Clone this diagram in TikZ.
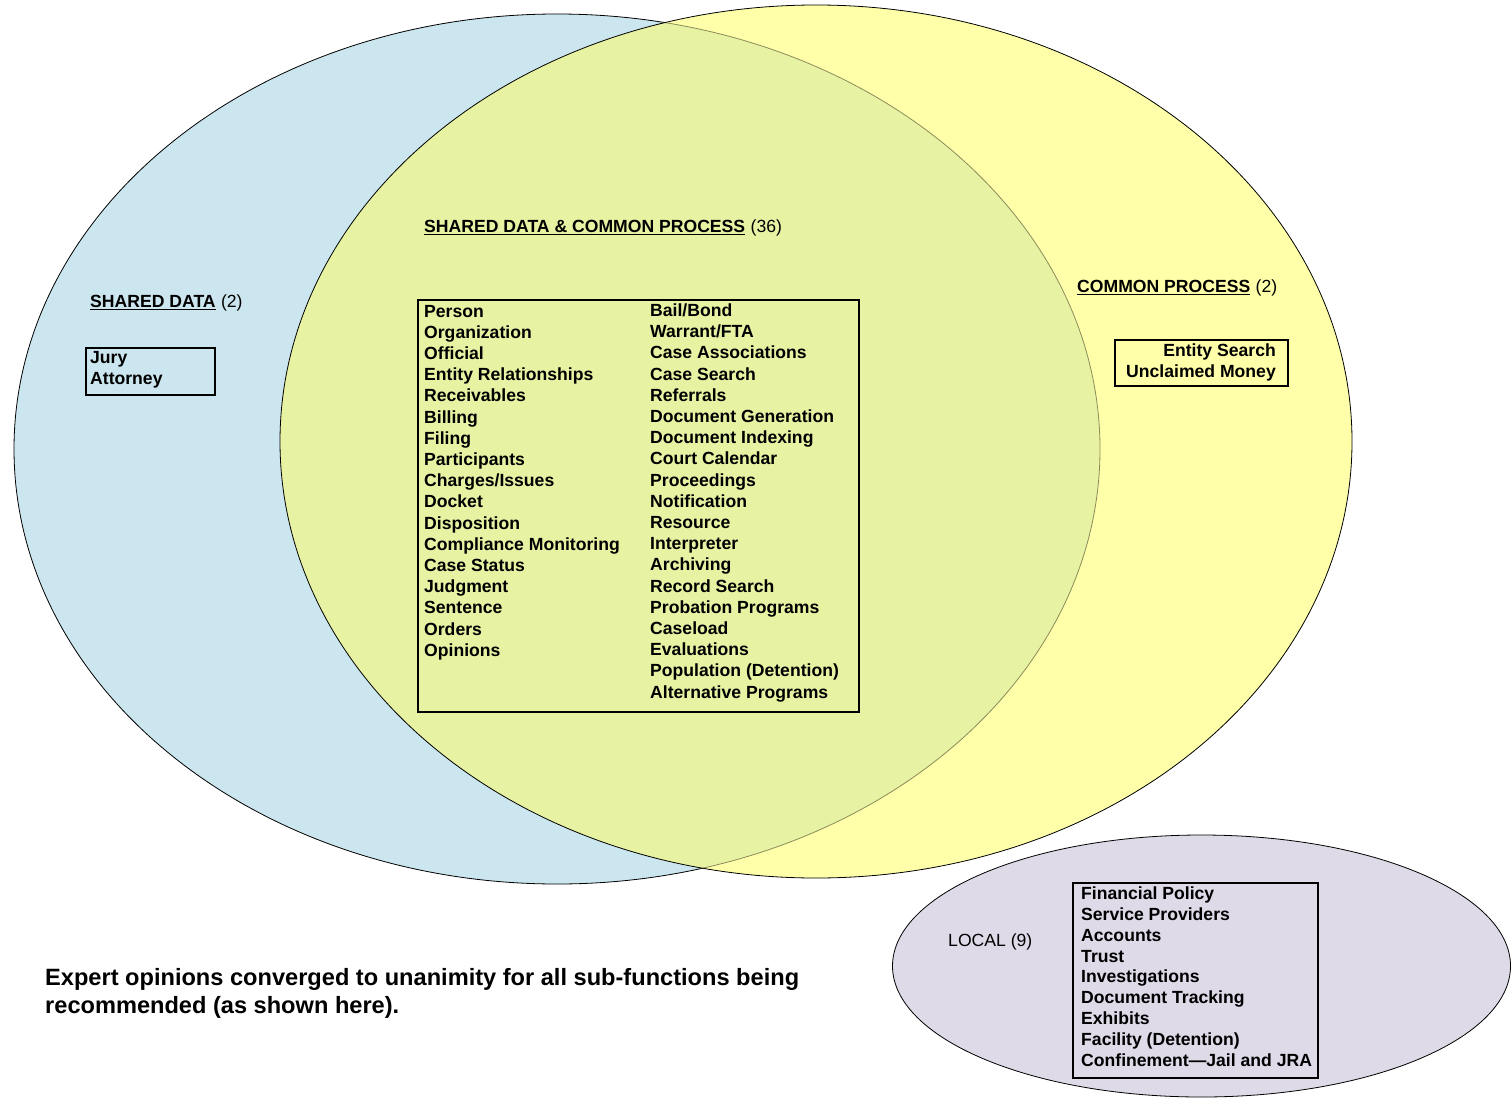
\documentclass[tikz,border=0pt]{standalone}
\usepackage{fontspec}
\setmainfont{Liberation Sans}
\definecolor{sdblue}{HTML}{CBE6EE}
\definecolor{cpyellow}{HTML}{FFFFAA}
\definecolor{bothgreen}{HTML}{E7F2A3}
\definecolor{localpurple}{HTML}{DEDAE8}
\definecolor{innerrim}{HTML}{8C8C5A}
\tikzset{
  item/.style={anchor=base west, inner sep=0pt, font=\fontsize{17.6}{21.2}\selectfont\bfseries},
  itemr/.style={anchor=base east, inner sep=0pt, font=\fontsize{17.6}{21.2}\selectfont\bfseries},
  plain/.style={anchor=base west, inner sep=0pt, font=\fontsize{17.6}{21.2}\selectfont},
  listbox/.style={draw=black, line width=2pt, anchor=north west, inner sep=0pt},
  rim/.style={draw=black, line width=0.8pt},
  uline/.style={line width=1.4pt}
}
\begin{document}
\begin{tikzpicture}[x=1pt,y=-1pt]
\useasboundingbox (0,0) rectangle (1511,1097);

% the two large sets
\fill[sdblue] (557,449) ellipse [x radius=543, y radius=435];
\draw[rim] (557,449) ellipse [x radius=543, y radius=435];
\fill[cpyellow] (816,441.5) ellipse [x radius=536, y radius=436.5];
\begin{scope}
  \clip (816,441.5) ellipse [x radius=536, y radius=436.5];
  \fill[bothgreen] (557,449) ellipse [x radius=543, y radius=435];
  \draw[innerrim, line width=0.8pt] (557,449) ellipse [x radius=543, y radius=435];
\end{scope}
\draw[rim] (816,441.5) ellipse [x radius=536, y radius=436.5];

% local set
\fill[localpurple] (1201.5,966) ellipse [x radius=309, y radius=131];
\draw[rim] (1201.5,966) ellipse [x radius=309, y radius=131];

% shared data
\node[item] (sdh) at (90,307) {SHARED DATA};
\node[plain] (sdn) at ([xshift=5pt]sdh.base east) {(2)};
\draw[uline] ([yshift=-2.4pt]sdh.base west) -- ([yshift=-2.4pt]sdh.base east);
\node[listbox, minimum width=129pt, minimum height=47pt] (sdbox) at (85,346.5) {};
\node[item] (jury) at (90,363) {Jury};
\node[item] (atty) at (90,384) {Attorney};

% shared data & common process
\node[item] (bothh) at (424,232) {SHARED DATA \& COMMON PROCESS};
\node[plain] (bothn) at ([xshift=5pt]bothh.base east) {(36)};
\draw[uline] ([yshift=-2.4pt]bothh.base west) -- ([yshift=-2.4pt]bothh.base east);
\node[listbox, minimum width=441pt, minimum height=412pt] (bothbox) at (416.5,298.5) {};
\foreach \t [count=\i] in {Person, Organization, Official, Entity Relationships,
  Receivables, Billing, Filing, Participants, Charges/Issues, Docket, Disposition,
  Compliance Monitoring, Case Status, Judgment, Sentence, Orders, Opinions}
  \node[item] (l\i) at (424,{317+21.2*(\i-1)}) {\t};
\foreach \t [count=\i] in {Bail/Bond, Warrant/FTA, Case Associations, Case Search,
  Referrals, Document Generation, Document Indexing, Court Calendar, Proceedings,
  Notification, Resource, Interpreter, Archiving, Record Search, Probation Programs,
  Caseload, Evaluations, Population (Detention), Alternative Programs}
  \node[item] (r\i) at (650,{316.5+21.2*(\i-1)}) {\t};

% common process
\node[item] (cph) at (1077,292) {COMMON PROCESS};
\node[plain] (cpn) at ([xshift=5pt]cph.base east) {(2)};
\draw[uline] ([yshift=-2.4pt]cph.base west) -- ([yshift=-2.4pt]cph.base east);
\node[listbox, minimum width=173pt, minimum height=46pt] (cpbox) at (1113.5,339) {};
\node[itemr] (ents) at (1276,356) {Entity Search};
\node[itemr] (uncl) at (1276,377) {Unclaimed Money};

% local
\node[plain] (loch) at (948,946) {LOCAL (9)};
\node[listbox, minimum width=245pt, minimum height=195pt] (locbox) at (1071.5,881.5) {};
\foreach \t [count=\i] in {Financial Policy, Service Providers, Accounts, Trust,
  Investigations, Document Tracking, Exhibits, Facility (Detention),
  Confinement—Jail and JRA}
  \node[item] (k\i) at (1081,{899.3+20.9*(\i-1)}) {\t};

% note, two lines
\node[anchor=base west, inner sep=0pt,
  font=\fontsize{23.6}{28}\selectfont\bfseries] (note1) at (45,985)
  {Expert opinions converged to unanimity for all sub-functions being};
\node[anchor=base west, inner sep=0pt,
  font=\fontsize{23.6}{28}\selectfont\bfseries] (note2) at (45,1013)
  {recommended (as shown here).};
\end{tikzpicture}
\end{document}
